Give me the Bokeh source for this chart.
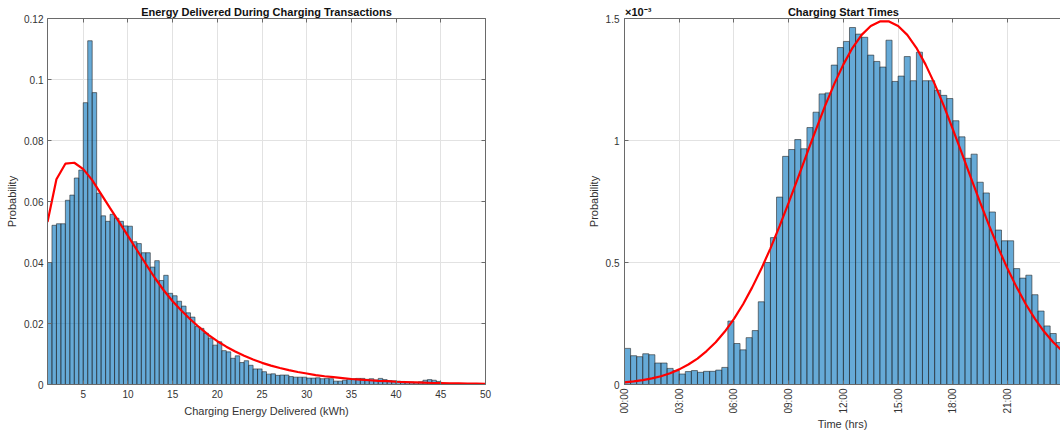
import numpy as np
from bokeh.plotting import figure
from bokeh.models import (Range1d, FixedTicker, LinearAxis, PrintfTickFormatter,
                          CustomLabelingPolicy)
from bokeh.layouts import row
from bokeh.embed import file_html
from bokeh.resources import INLINE

# ---------------- data ----------------
# Left: energy delivered histogram (0.5 kWh bins starting at 1 kWh)
energy_bin_width = 0.5
energy_first_bin = 1.0
energy_prob = [
    0.0400, 0.0522, 0.0527, 0.0527, 0.0604, 0.0621, 0.0677, 0.0703, 0.0924, 0.1127,
    0.0957, 0.0627, 0.0553, 0.0535, 0.0558, 0.0545, 0.0535, 0.0520, 0.0519, 0.0468,
    0.0462, 0.0432, 0.0432, 0.0385, 0.0406, 0.0341, 0.0358, 0.0299, 0.0291, 0.0273,
    0.0257, 0.0235, 0.0221, 0.0190, 0.0184, 0.0168, 0.0152, 0.0129, 0.0140, 0.0111,
    0.0107, 0.0086, 0.0094, 0.0072, 0.0078, 0.0063, 0.0051, 0.0051, 0.0042, 0.0034,
    0.0035, 0.0030, 0.0031, 0.0031, 0.0026, 0.0024, 0.0024, 0.0024, 0.0021, 0.0021,
    0.0022, 0.0019, 0.0020, 0.0019, 0.0011, 0.0011, 0.0014, 0.0019, 0.0019, 0.0020,
    0.0020, 0.0017, 0.0019, 0.0015, 0.0020, 0.0016, 0.0013, 0.0012, 0.0011, 0.0010,
    0.0008, 0.0008, 0.0007, 0.0009, 0.0014, 0.0016, 0.0014, 0.0010,
]
energy_fit_kwh = list(range(1, 51))
energy_fit_prob = [
    0.0533, 0.0673, 0.0724, 0.0727, 0.0706, 0.0670, 0.0624, 0.0578, 0.0533, 0.0487,
    0.0441, 0.0395, 0.0350, 0.0309, 0.0273, 0.0242, 0.0213, 0.0187, 0.0163, 0.0142,
    0.0124, 0.0108, 0.0094, 0.0082, 0.0071, 0.0062, 0.0054, 0.0047, 0.0041, 0.0036,
    0.0031, 0.0027, 0.0024, 0.0021, 0.0018, 0.0016, 0.0014, 0.0012, 0.0011, 0.0009,
    0.0008, 0.0007, 0.0006, 0.0005, 0.0005, 0.0004, 0.0004, 0.0003, 0.0003, 0.0002,
]
energy_xticks = [5, 10, 15, 20, 25, 30, 35, 40, 45, 50]
energy_yticks = [0, 0.02, 0.04, 0.06, 0.08, 0.10, 0.12]
energy_title = "Energy Delivered During Charging Transactions"

# Right: charging start times (20-minute bins), probability in units of 1e-3
time_bin_hours = 20 / 60
start_prob_e3 = [
    0.148, 0.118, 0.114, 0.126, 0.122, 0.088, 0.088, 0.066, 0.057, 0.043,
    0.053, 0.057, 0.050, 0.054, 0.054, 0.059, 0.070, 0.260, 0.168, 0.142,
    0.192, 0.221, 0.339, 0.500, 0.602, 0.768, 0.935, 0.963, 1.004, 0.966,
    1.053, 1.116, 1.191, 1.195, 1.309, 1.381, 1.406, 1.463, 1.436, 1.423,
    1.350, 1.324, 1.301, 1.411, 1.242, 1.264, 1.344, 1.245, 1.362, 1.245,
    1.245, 1.206, 1.185, 1.172, 1.081, 1.015, 0.927, 0.944, 0.829, 0.785,
    0.707, 0.633, 0.589, 0.589, 0.475, 0.436, 0.448, 0.368, 0.301, 0.240,
    0.209, 0.172,
]
start_fit_hours = [h * 0.5 for h in range(49)]
start_fit_e3 = [
    0.009, 0.013, 0.018, 0.025, 0.034, 0.046, 0.062, 0.082, 0.106, 0.137,
    0.173, 0.217, 0.269, 0.329, 0.398, 0.474, 0.558, 0.649, 0.745, 0.845,
    0.946, 1.046, 1.143, 1.232, 1.312, 1.380, 1.433, 1.469, 1.488, 1.488,
    1.469, 1.433, 1.380, 1.312, 1.232, 1.143, 1.046, 0.946, 0.845, 0.745,
    0.649, 0.558, 0.474, 0.398, 0.329, 0.269, 0.217, 0.173, 0.137,
]
time_tick_hours = [0, 3, 6, 9, 12, 15, 18, 21]
time_tick_labels = ["00:00", "03:00", "06:00", "09:00", "12:00", "15:00", "18:00", "21:00"]
start_yticks = [0, 0.5, 1.0, 1.5]
start_title = "Charging Start Times"
start_exponent = "\u00d710\u207b\u00b3"

# ---------------- style ----------------
FONT = "Liberation Sans"
TXT = "#333333"
AXC = "#6a6a6a"
GRID = "#e2e2e2"
BAR_FILL = "#0072BD"
BAR_LINE = "#262626"
RED = "#FF0000"

NO_LABELS = CustomLabelingPolicy(code="for (const i of indices) { indices.unset(i) } return indices")


def style_axis(ax, ticks, labels=True, overrides=None):
    ax.ticker = FixedTicker(ticks=ticks)
    ax.major_tick_in = 4
    ax.major_tick_out = 0
    ax.minor_tick_in = 0
    ax.minor_tick_out = 0
    ax.axis_line_color = AXC
    ax.axis_line_width = 1
    ax.major_tick_line_color = AXC
    ax.major_label_text_font = FONT
    ax.major_label_text_color = TXT
    ax.major_label_standoff = 4
    ax.axis_label_text_font = FONT
    ax.axis_label_text_font_style = "normal"
    ax.axis_label_text_color = TXT
    ax.axis_label_text_font_size = "11px"
    ax.major_label_text_font_size = "10px"
    if not labels:
        ax.major_label_policy = NO_LABELS
        ax.major_label_standoff = 0
    if overrides:
        ax.major_label_overrides = overrides


def title_axis(label_positions, label_texts, tick_positions):
    """Top axis: real tick marks as minor ticks, title text as major labels."""
    ax = LinearAxis()
    ax.ticker = FixedTicker(ticks=label_positions, minor_ticks=tick_positions)
    ax.major_tick_in = 0
    ax.major_tick_out = 0
    ax.major_tick_line_color = None
    ax.minor_tick_in = 4
    ax.minor_tick_out = 0
    ax.minor_tick_line_color = AXC
    ax.axis_line_color = AXC
    ax.axis_line_width = 1
    ax.major_label_text_font = FONT
    ax.major_label_text_font_size = "11px"
    ax.major_label_text_font_style = "bold"
    ax.major_label_text_color = "#111111"
    ax.major_label_standoff = 1
    ax.major_label_overrides = {pos: txt for pos, txt in zip(label_positions, label_texts)}
    return ax


def base_fig(xr, yr, w, h, bl, br, bt, bb):
    p = figure(width=w, height=h, x_range=xr, y_range=yr,
               min_border_left=bl, min_border_right=br, min_border_top=bt,
               min_border_bottom=bb, toolbar_location=None, output_backend="svg")
    p.outline_line_color = None
    p.background_fill_color = "white"
    p.border_fill_color = "white"
    p.xgrid.grid_line_color = GRID
    p.ygrid.grid_line_color = GRID
    return p


# ---------------- left chart ----------------
e_left = energy_first_bin + energy_bin_width * np.arange(len(energy_prob))
e_right = e_left + energy_bin_width

p1 = base_fig(Range1d(1, 50), Range1d(0, 0.12), 540, 432, 47, 55, 18, 45)
p1.quad(left=e_left, right=e_right, bottom=0, top=energy_prob,
        fill_color=BAR_FILL, fill_alpha=0.6, line_color=BAR_LINE,
        line_width=0.7, line_alpha=0.85)
p1.line(energy_fit_kwh, energy_fit_prob, line_color=RED, line_width=2.2)

style_axis(p1.xaxis[0], energy_xticks)
style_axis(p1.yaxis[0], energy_yticks)
p1.yaxis[0].formatter = PrintfTickFormatter(format="%g")
p1.xaxis[0].major_label_standoff = 5
p1.xaxis[0].axis_label = "Charging Energy Delivered (kWh)"
p1.xaxis[0].axis_label_standoff = 4
p1.yaxis[0].axis_label = "Probability"
p1.yaxis[0].axis_label_standoff = 3
p1.xgrid.ticker = FixedTicker(ticks=energy_xticks)
p1.ygrid.ticker = FixedTicker(ticks=energy_yticks)

p1.add_layout(title_axis([25.5], [energy_title], energy_xticks), "above")
right1 = LinearAxis()
style_axis(right1, energy_yticks, labels=False)
p1.add_layout(right1, "right")

# ---------------- right chart ----------------
t_left = time_bin_hours * np.arange(len(start_prob_e3))
t_right = t_left + time_bin_hours

p2 = base_fig(Range1d(0, 23.9), Range1d(0, 1.5), 520, 432, 84, 0, 18, 45)
p2.quad(left=t_left, right=t_right, bottom=0, top=start_prob_e3,
        fill_color=BAR_FILL, fill_alpha=0.6, line_color=BAR_LINE,
        line_width=0.7, line_alpha=0.85)
p2.line(start_fit_hours, start_fit_e3, line_color=RED, line_width=2.2)

style_axis(p2.xaxis[0], time_tick_hours,
           overrides={h: lab for h, lab in zip(time_tick_hours, time_tick_labels)})
p2.xaxis[0].major_label_orientation = np.pi / 2
p2.xaxis[0].major_label_standoff = 4
p2.xaxis[0].axis_label = "Time (hrs)"
p2.xaxis[0].axis_label_standoff = 1
style_axis(p2.yaxis[0], start_yticks)
p2.yaxis[0].formatter = PrintfTickFormatter(format="%g")
p2.yaxis[0].major_label_standoff = 5
p2.yaxis[0].axis_label = "Probability"
p2.yaxis[0].axis_label_standoff = 3
p2.xgrid.ticker = FixedTicker(ticks=time_tick_hours)
p2.ygrid.ticker = FixedTicker(ticks=start_yticks)

p2.add_layout(title_axis([0.75, 12], [start_exponent, start_title], time_tick_hours), "above")

layout = row(p1, p2)
open("out.html", "w").write(file_html(layout, INLINE))
